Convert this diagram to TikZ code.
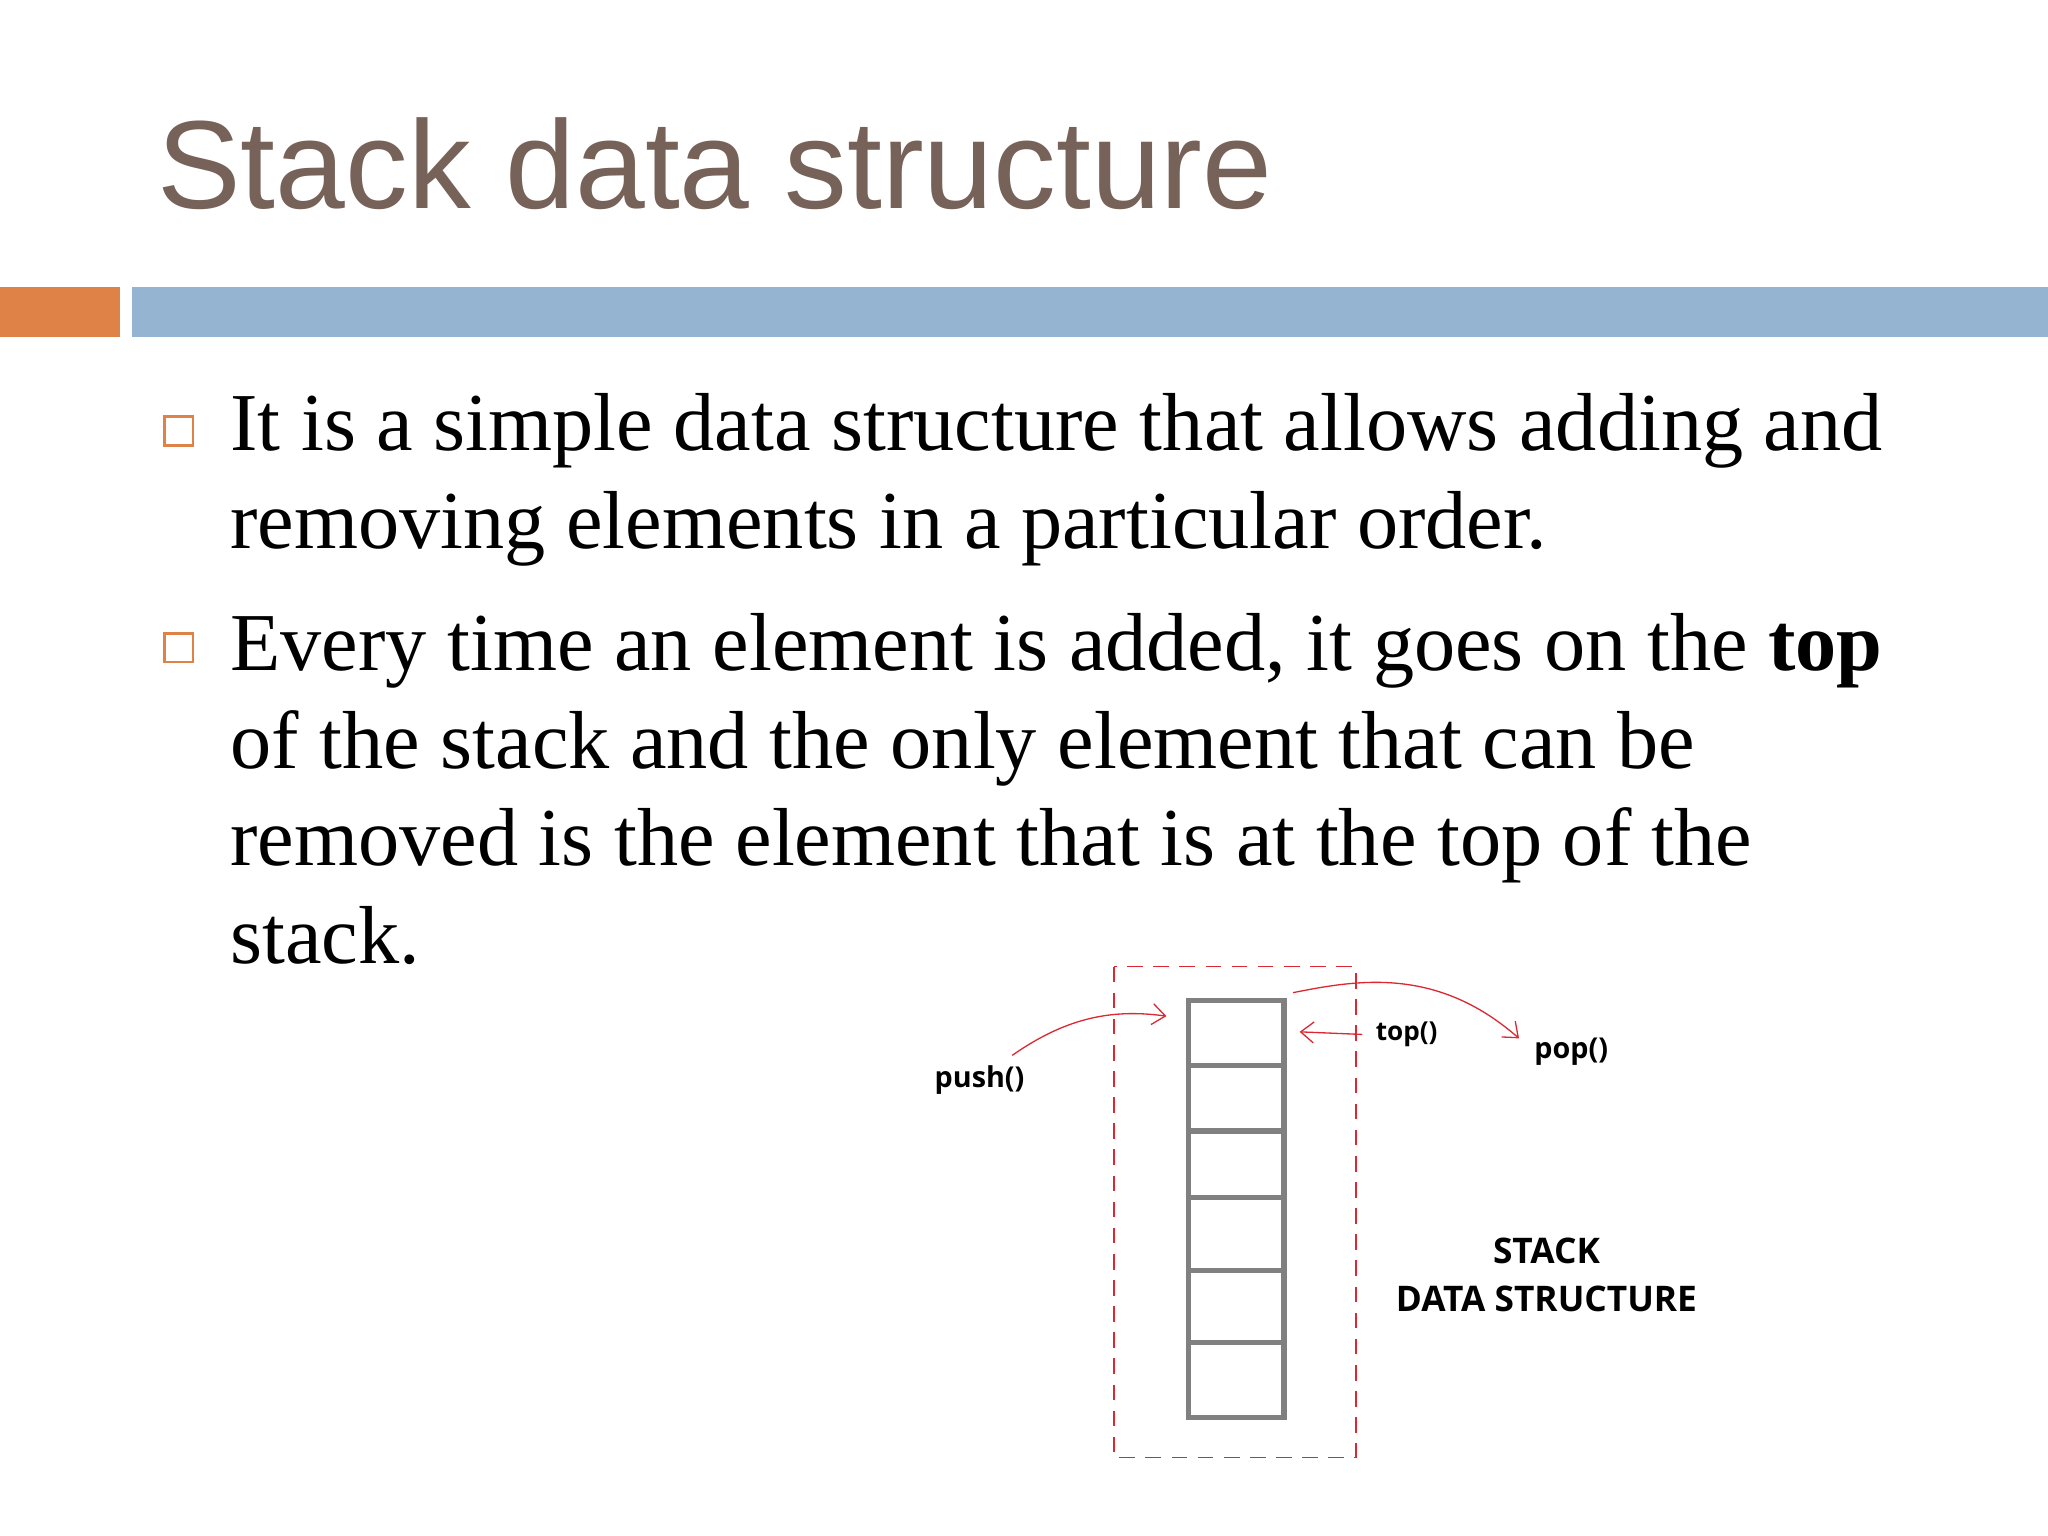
\documentclass[tikz,border=0pt]{standalone}
\usepackage{fontspec}
\setmainfont{Liberation Serif}
\newfontfamily\titlefont{Liberation Sans}
\newfontfamily\labfont{Open Sans}
\usetikzlibrary{arrows.meta}
\definecolor{titlec}{RGB}{118,98,88}
\definecolor{orangec}{RGB}{222,130,72}
\definecolor{bluec}{RGB}{148,180,210}
\definecolor{redc}{RGB}{220,40,50}
\definecolor{grayc}{RGB}{128,128,128}
\tikzset{
  body/.style={anchor=base west,inner sep=0pt,font=\fontsize{31.5}{38}\selectfont},
  bul/.style={draw=orangec,line width=0.9pt,minimum size=11pt,inner sep=0pt},
  lab/.style={font=\labfont\bfseries\fontsize{11}{13}\selectfont,inner sep=1pt},
  redarrow/.style={draw=redc,line width=0.5pt,-{Straight Barb[length=5pt,width=8pt]}},
  cell/.style={draw=grayc,line width=2pt}
}
\begin{document}
\begin{tikzpicture}[x=0.5pt,y=-0.5pt]
\useasboundingbox (0,0) rectangle (1568,1176);
\fill[white] (0,0) rectangle (1568,1176);
\node[anchor=base west,inner sep=0pt,text=titlec,font=\titlefont\fontsize{48}{54}\selectfont] (title) at (120,160) {Stack data structure};
\fill[orangec] (0,220) rectangle (92,258);
\fill[bluec] (101,220) rectangle (1568,258);
\node[bul] (b1) at (137,330) {};
\node[bul] (b2) at (137,496) {};
\node[body] (l1) at (176,345) {It is a simple data structure that allows adding and};
\node[body] (l2) at (176,420) {removing elements in a particular order.};
\node[body] (l3) at (176,513) {Every time an element is added, it goes on the \textbf{top}};
\node[body] (l4) at (176,588) {of the stack and the only element that can be};
\node[body] (l5) at (176,663) {removed is the element that is at the top of the};
\node[body] (l6) at (176,738) {stack.};
% dashed box
\draw[redc,line width=0.6pt,dash pattern=on 6pt off 4pt] (853,740) rectangle (1038,1116);
% stack
\draw[cell] (910,766) rectangle (983,1085);
\foreach \yy in {816,866,917,973,1028} \draw[cell] (910,\yy) -- (983,\yy);
\coordinate (stacktop) at (893,778);
\coordinate (topend) at (995,790);
\node[lab] (push) at (750,827) {push()};
\node[lab,font=\labfont\bfseries\fontsize{10}{12}\selectfont] (top) at (1077,792) {top()};
\node[lab] (pop) at (1203,805) {pop()};
\node[lab,align=center,font=\labfont\bfseries\fontsize{13.5}{18.5}\selectfont] (sds) at (1184,976) {STACK\\DATA STRUCTURE};
\draw[redarrow] (775,808) .. controls (815,780) and (850,772) .. (stacktop);
\draw[redarrow] ([xshift=-4pt]top.west) -- (topend);
\draw[redarrow] (990,760) .. controls (1040,750) and (1100,740) .. (1163,795);
\end{tikzpicture}
\end{document}
